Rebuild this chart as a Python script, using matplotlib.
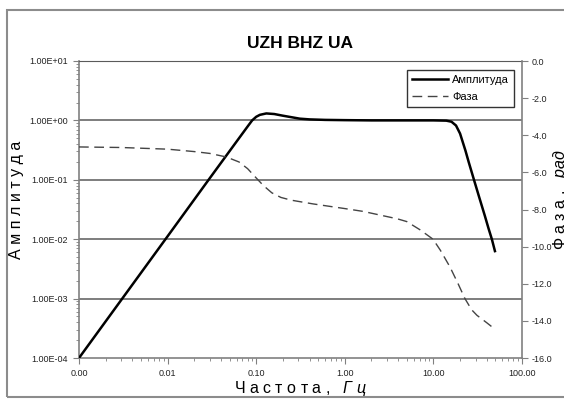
import matplotlib.pyplot as plt
from matplotlib.patches import Rectangle
from matplotlib.ticker import FixedLocator, FuncFormatter, LogLocator, NullFormatter

plt.rcParams['font.family'] = ['Liberation Sans', 'DejaVu Sans']
plt.rcParams['mathtext.fontset'] = 'custom'
plt.rcParams['mathtext.it'] = 'Liberation Sans:italic'
plt.rcParams['mathtext.rm'] = 'Liberation Sans'

# Amplitude response
freq_amp = [0.001, 0.003, 0.01, 0.03, 0.06, 0.08, 0.09, 0.1, 0.11, 0.13, 0.16, 0.2,
            0.31, 0.4, 0.6, 1.0, 2.0, 5.0, 10.0, 14.0, 16.0, 18.0, 20.0, 23.0, 25.0,
            28.7, 33.0, 38.0, 42.0, 45.7, 49.5]
amp = [1e-4, 9.5e-4, 1.12e-2, 1.07e-1, 0.44, 0.79, 1.0, 1.15, 1.24, 1.31, 1.28, 1.2,
       1.07, 1.04, 1.02, 1.01, 1.0, 1.0, 1.0, 0.99, 0.95, 0.82, 0.6, 0.31, 0.2,
       0.1, 0.05, 0.025, 0.015, 0.01, 0.0063]

# Phase response, rad
freq_phase = [0.001, 0.003, 0.01, 0.02, 0.03, 0.046, 0.064, 0.08, 0.1, 0.12, 0.15, 0.19,
              0.25, 0.44, 1.0, 1.6, 3.9, 5.0, 7.1, 9.9, 12.0, 15.4, 19.0, 22.7, 27.0,
              31.0, 40.0, 49.5]
phase = [-4.63, -4.66, -4.75, -4.88, -4.98, -5.17, -5.44, -5.8, -6.3, -6.7, -7.1, -7.35,
         -7.5, -7.7, -7.95, -8.1, -8.5, -8.65, -9.1, -9.6, -10.2, -11.1, -12.0, -12.8, -13.4,
         -13.7, -14.1, -14.45]

amp_ticks = [1e-4, 1e-3, 1e-2, 1e-1, 1e0, 1e1]
freq_ticks = [0.001, 0.01, 0.1, 1, 10, 100]
phase_ticks = [0, -2, -4, -6, -8, -10, -12, -14, -16]

spine_col = '#808080'

fig = plt.figure(figsize=(5.64, 3.99), dpi=100)
fig.patches.append(Rectangle((7 / 564, 2 / 399), 1.0, 387 / 399, transform=fig.transFigure,
                             fill=False, edgecolor='#8c8c8c', lw=1.5))

ax = fig.add_axes([79 / 564, 41 / 399, 443 / 564, 297 / 399])
ax.set_xscale('log')
ax.set_yscale('log')
ax.set_xlim(0.001, 100)
ax.set_ylim(1e-4, 1e1)

for y in amp_ticks[1:]:
    ax.axhline(y, color='#5a5a5a', lw=1.1, zorder=1)

l1, = ax.plot(freq_amp, amp, color='black', lw=1.8, zorder=3, label='Амплитуда')

ax.yaxis.set_major_locator(FixedLocator(amp_ticks))
ax.yaxis.set_major_formatter(FuncFormatter(lambda v, p: f'{v:.2E}'))
ax.yaxis.set_minor_locator(LogLocator(base=10, subs=range(2, 10)))
ax.yaxis.set_minor_formatter(NullFormatter())
ax.xaxis.set_major_locator(FixedLocator(freq_ticks))
ax.xaxis.set_major_formatter(FuncFormatter(lambda v, p: f'{v:.2f}'))
ax.xaxis.set_minor_locator(LogLocator(base=10, subs=range(2, 10)))
ax.xaxis.set_minor_formatter(NullFormatter())
ax.tick_params(which='major', direction='out', length=4, width=0.8, color=spine_col,
               labelsize=6.5, labelcolor='#222222', pad=4)
ax.tick_params(which='minor', direction='out', length=2, width=0.6, color=spine_col)
for s in ['left', 'bottom']:
    ax.spines[s].set_color(spine_col)
    ax.spines[s].set_linewidth(1.2)
ax.spines['top'].set_color('#5a5a5a')
ax.spines['right'].set_visible(False)

ax2 = ax.twinx()
ax2.set_ylim(-16, 0)
l2, = ax2.plot(freq_phase, phase, color='#444444', lw=1.0, dashes=(7, 4), label='Фаза')
ax2.yaxis.set_major_locator(FixedLocator(phase_ticks))
ax2.yaxis.set_major_formatter(FuncFormatter(lambda v, p: f'{v:.1f}'))
ax2.tick_params(direction='out', length=4, width=0.8, color=spine_col,
                labelsize=6.5, labelcolor='#222222', pad=3)
ax2.spines['right'].set_color(spine_col)
ax2.spines['right'].set_linewidth(1.2)
for s in ['left', 'top', 'bottom']:
    ax2.spines[s].set_visible(False)

leg = ax2.legend(handles=[l1, l2], loc='upper right', bbox_to_anchor=(0.995, 0.988),
                 fontsize=8, frameon=True, fancybox=False, borderpad=0.45,
                 handlelength=3.2, handletextpad=0.4, labelspacing=0.6)
leg.get_frame().set_edgecolor('black')
leg.get_frame().set_linewidth(1.0)

fig.text(300 / 564, 1 - 43 / 399, 'UZH BHZ UA', ha='center', va='center',
         fontsize=12.5, fontweight='bold')
fig.text(300 / 564, 1 - 388 / 399, 'Ч а с т о т а ,   $\\mathit{Г\\ ц}$', ha='center', va='center',
         fontsize=11.5)
fig.text(17 / 564, 1 - 200 / 399, 'А м п л и т у д а', ha='center', va='center',
         rotation=90, fontsize=11.5)
fig.text(560 / 564, 1 - 200 / 399, 'Ф а з а ,   $\\mathit{р а д}$', ha='center', va='center',
         rotation=90, fontsize=11.5)

fig.savefig('out.png', dpi=100)
